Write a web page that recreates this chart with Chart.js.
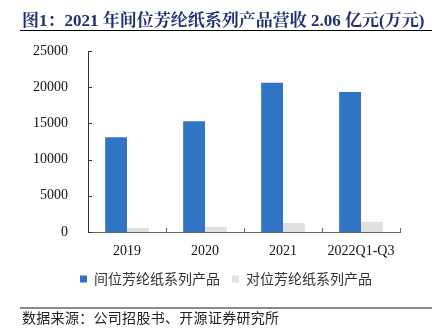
<!doctype html>
<html lang="zh">
<head>
<meta charset="utf-8">
<title>间位芳纶纸系列产品营收</title>
<style>
  * { margin: 0; padding: 0; }
  body { width: 439px; height: 335px; background: #fff; position: relative; overflow: hidden; }
  .title {
    position: absolute; left: 22px; top: 6px; white-space: nowrap;
    font: bold 17px "Liberation Serif", "Noto Serif CJK SC", "Noto Sans CJK SC", serif;
    color: #1c2d7c;
  }
  .rule-top { position: absolute; left: 20px; top: 30px; width: 412px; height: 1px; background: #000; }
  .rule-bottom { position: absolute; left: 20px; top: 307px; width: 412px; height: 2px; background: #8a8a8a; }
  .source {
    position: absolute; left: 22px; top: 307px; white-space: nowrap;
    font: 14px "Noto Sans CJK SC", sans-serif; letter-spacing: 0.3px; color: #222;
  }
  .chartBox { position: absolute; left: 0; top: 0; width: 439px; height: 335px; }
</style>
</head>
<body>
<div class="chartBox"><canvas id="myChart" width="439" height="335"></canvas></div>
<div class="title">图1：2021 年间位芳纶纸系列产品营收 2.06 亿元(万元)</div>
<div class="rule-top"></div>
<div class="rule-bottom"></div>
<div class="source">数据来源：公司招股书、开源证券研究所</div>

<script src="https://cdn.jsdelivr.net/npm/chart.js"></script>
<script>
  // data
  const categories = ['2019', '2020', '2021', '2022Q1-Q3'];
  const metaAramid = [13100, 15300, 20600, 19350];
  const paraAramid = [550, 680, 1250, 1400];
  const yTicks = [0, 5000, 10000, 15000, 20000, 25000];

  const serif = '"Liberation Serif", "Times New Roman", serif';
  const cjk = '"Noto Sans CJK SC", sans-serif';

  // small tick marks pointing into the plot
  const innerTicks = {
    id: 'innerTicks',
    afterLayout(chart) {
      // nudge legend to the right so it sits where the original does
      chart.legend.left += 16;
      chart.legend.right += 16;
    },
    afterDraw(chart) {
      const {ctx, scales: {x, y}} = chart;
      ctx.save();
      ctx.lineWidth = 1;
      ctx.strokeStyle = '#333';
      y.ticks.forEach((t, i) => {
        const py = Math.round(y.getPixelForTick(i)) + 0.5;
        ctx.beginPath();
        ctx.moveTo(x.left, py);
        ctx.lineTo(x.left + 4, py);
        ctx.stroke();
      });
      ctx.strokeStyle = '#666';
      const step = (x.right - x.left) / categories.length;
      for (let i = 1; i <= categories.length; i++) {
        const px = Math.round(x.left + i * step) + 0.5;
        ctx.beginPath();
        ctx.moveTo(px, y.bottom);
        ctx.lineTo(px, y.bottom - 4);
        ctx.stroke();
      }
      ctx.restore();
    }
  };

  const config = {
    type: 'bar',
    data: {
      labels: categories,
      datasets: [{
        label: '间位芳纶纸系列产品',
        data: metaAramid,
        backgroundColor: '#3074c4',
      }, {
        label: '对位芳纶纸系列产品',
        data: paraAramid,
        backgroundColor: '#e0e0e0',
      }]
    },
    options: {
      responsive: false,
      animation: false,
      layout: { padding: { top: 51, left: 20, right: 39, bottom: 39 } },
      datasets: { bar: { categoryPercentage: 0.56, barPercentage: 1 } },
      scales: {
        x: {
          grid: { display: false },
          border: { display: true, color: '#666', width: 1 },
          ticks: { color: '#111', font: { family: serif, size: 14 }, padding: 3, maxRotation: 0 },
          afterFit(scale) { scale.height = 28; }
        },
        y: {
          min: 0,
          max: 25000,
          grid: { display: false },
          border: { display: true, color: '#333', width: 1 },
          afterBuildTicks(scale) { scale.ticks = yTicks.map(v => ({ value: v })); },
          ticks: {
            color: '#111',
            font: { family: serif, size: 14 },
            padding: 12,
            callback: v => String(v)
          },
          afterFit(scale) { scale.width = 68; }
        }
      },
      plugins: {
        title: { display: false },
        tooltip: { enabled: false },
        legend: {
          position: 'bottom',
          labels: {
            boxWidth: 7,
            boxHeight: 7,
            padding: 12,
            color: '#333',
            font: { family: cjk, size: 14 }
          }
        }
      }
    },
    plugins: [innerTicks]
  };

  const myChart = new Chart(document.getElementById('myChart'), config);
</script>
</body>
</html>
